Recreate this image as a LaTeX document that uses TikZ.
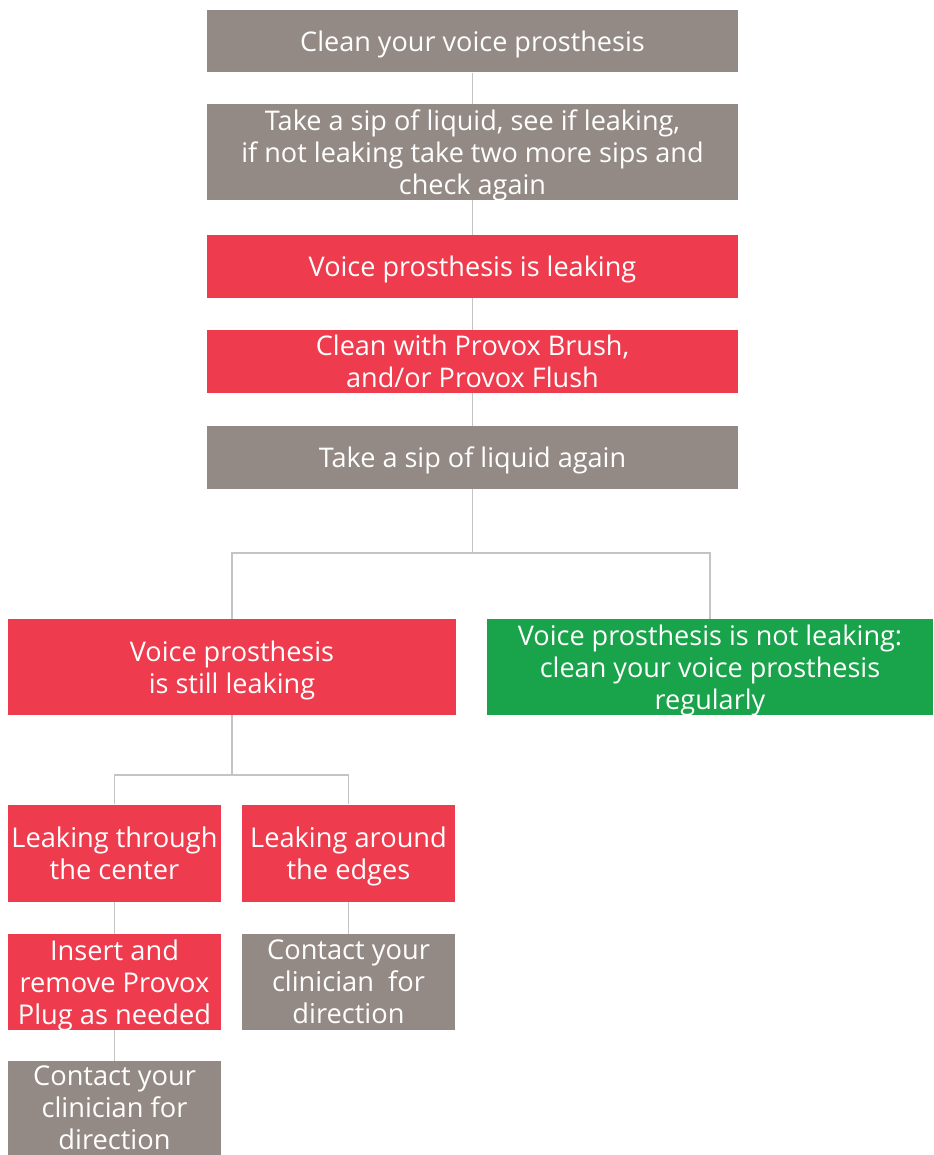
\documentclass[tikz,border=0pt]{standalone}
\usepackage{fontspec}
\setmainfont{Open Sans}
\definecolor{boxgrey}{RGB}{148,138,133}
\definecolor{boxred}{RGB}{238,60,78}
\definecolor{boxgreen}{RGB}{25,163,74}
\definecolor{linegrey}{RGB}{196,196,196}
\tikzset{
  box/.style={inner sep=0pt, text=white, align=center, text depth=0pt,
    font=\fontsize{15.4}{18.2}\selectfont},
  wide/.style={box, minimum width=10.62cm, minimum height=1.26cm},
  half/.style={box, minimum width=8.96cm, minimum height=1.92cm},
  small/.style={box, minimum width=4.28cm, minimum height=1.94cm,
    font=\fontsize{15.5}{18.2}\selectfont},
  grey/.style={fill=boxgrey},
  red/.style={fill=boxred},
  green/.style={fill=boxgreen},
  link/.style={draw=linegrey, line width=1.1pt}
}
\begin{document}
\begin{tikzpicture}[x=0.02cm, y=-0.02cm]
\useasboundingbox (0,0) rectangle (933,1155);

\node(clean) [wide, grey] at (472.5,41) {Clean your voice prosthesis};
\node(sip) [wide, grey, minimum height=1.92cm] at (472.5,152) {Take a sip of liquid, see if leaking,\\ if not leaking take two more sips and\\ check again};
\node(leak) [wide, red] at (472.5,266.5) {Voice prosthesis is leaking};
\node(brush) [wide, red] at (472.5,361.5) {Clean with Provox Brush,\\ and/or Provox Flush};
\node(again) [wide, grey] at (472.5,457.5) {Take a sip of liquid again};

\node(still) [half, red] at (232,667) {Voice prosthesis\\ is still leaking};
\node(notleak) [half, green, minimum width=8.92cm] at (710,667) {Voice prosthesis is not leaking:\\ clean your voice prosthesis\\ regularly};

\node(center) [small, red] at (114.5,853) {Leaking through\\ the center};
\node(edges) [small, red] at (348.5,853) {Leaking around\\ the edges};
\node(plug) [small, red, minimum height=1.92cm] at (114.5,982) {Insert and\\ remove Provox\\ Plug as needed};
\node(contact2) [small, grey, minimum height=1.92cm] at (348.5,982) {Contact your\\ clinician~~for\\ direction};
\node(contact1) [small, grey, minimum height=1.88cm] at (114.5,1108) {Contact your\\ clinician for\\ direction};

\coordinate(fork1) at (472.5,553);
\coordinate(fork2) at (232,775);

\draw[link](clean) -- (sip);
\draw[link](sip) -- (leak);
\draw[link](leak) -- (brush);
\draw[link](brush) -- (again);
\draw[link](again) -- (fork1);
\draw[link](fork1) -| (still);
\draw[link](fork1) -| (notleak);
\draw[link](still) -- (fork2);
\draw[link](fork2) -| (center);
\draw[link](fork2) -| (edges);
\draw[link](center) -- (plug);
\draw[link](plug) -- (contact1);
\draw[link](edges) -- (contact2);
\end{tikzpicture}
\end{document}
